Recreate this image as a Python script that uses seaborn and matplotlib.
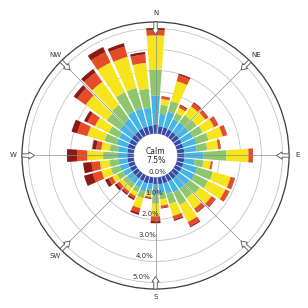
import numpy as np
import matplotlib
matplotlib.use("Agg")
import matplotlib.pyplot as plt
import seaborn as sns
from matplotlib.patches import Polygon

# ---------------- data (percent of time, per direction and speed class) ----------------
directions = list(range(0, 360, 10))
speed_classes = ["0-1 m/s", "1-2 m/s", "2-3 m/s", "3-4 m/s", "4-5 m/s", ">5 m/s"]

spd_1 = [0.43, 0.35, 0.35, 0.33, 0.33, 0.33, 0.33, 0.33, 0.33, 0.33, 0.33, 0.33,
         0.33, 0.33, 0.33, 0.33, 0.33, 0.33, 0.33, 0.30, 0.33, 0.30, 0.30, 0.30,
         0.30, 0.30, 0.30, 0.30, 0.30, 0.33, 0.33, 0.35, 0.35, 0.38, 0.38, 0.38]
spd_2 = [1.37, 0.60, 0.78, 0.55, 0.57, 0.57, 0.60, 0.65, 0.60, 0.90, 0.50, 0.68,
         0.68, 0.62, 0.58, 0.58, 0.52, 0.42, 0.47, 0.30, 0.42, 0.35, 0.32, 0.32,
         0.37, 0.43, 0.43, 0.48, 0.45, 0.55, 0.55, 0.70, 0.75, 0.90, 0.90, 0.85]
spd_3 = [1.25, 0.43, 0.52, 0.32, 0.42, 0.47, 0.52, 0.60, 0.50, 1.10, 0.42, 0.78,
         0.72, 0.60, 0.55, 0.66, 0.50, 0.30, 0.45, 0.20, 0.32, 0.25, 0.25, 0.25,
         0.32, 0.43, 0.43, 0.67, 0.40, 0.60, 0.55, 0.76, 0.82, 1.02, 1.02, 0.92]
spd_4 = [1.62, 0.28, 0.98, 0.28, 0.52, 0.50, 0.60, 0.70, 0.53, 1.05, 0.35, 0.88,
         0.92, 0.70, 0.62, 0.90, 0.60, 0.30, 0.60, 0.13, 0.50, 0.20, 0.20, 0.20,
         0.25, 0.47, 0.46, 0.76, 0.40, 0.85, 0.73, 1.25, 1.36, 1.57, 1.54, 1.24]
spd_5 = [0.25, 0.10, 0.30, 0.12, 0.19, 0.16, 0.20, 0.20, 0.10, 0.20, 0.07, 0.20,
         0.20, 0.20, 0.20, 0.22, 0.18, 0.10, 0.23, 0.06, 0.22, 0.12, 0.12, 0.14,
         0.20, 0.43, 0.40, 0.48, 0.24, 0.50, 0.40, 0.50, 0.55, 0.55, 0.50, 0.40]
spd_6 = [0.10, 0.03, 0.07, 0.05, 0.05, 0.03, 0.03, 0.02, 0.02, 0.02, 0.02, 0.02,
         0.02, 0.04, 0.04, 0.06, 0.06, 0.04, 0.10, 0.04, 0.10, 0.09, 0.08, 0.13,
         0.18, 0.43, 0.40, 0.48, 0.19, 0.28, 0.17, 0.20, 0.20, 0.27, 0.17, 0.12]

calm_pct = 7.5
ring_labels = ["0.0%", "1.0%", "2.0%", "3.0%", "4.0%", "5.0%"]
compass_names = ["N", "NE", "E", "S", "SW", "W", "NW"]
compass_angles = [0, 45, 90, 180, 225, 270, 315]
arrow_angles = [0, 45, 90, 135, 180, 225, 270, 315]

colors = ["#3549a6", "#45b4e6", "#8dc66d", "#f6e51c", "#e64a27", "#8c1a12"]

# ---------------- style ----------------
sns.set_theme(style="white")
plt.rcParams["font.family"] = ["DejaVu Sans"]

PX = 21.0                 # pixels per 1 % of frequency
C = 22.0 / PX             # calm-circle radius (data units)
RMAX = 133.5 / PX         # outer black circle
AX_PX = 267.0             # axes diameter in px

fig = plt.figure(figsize=(3.08, 3.08), dpi=100)
fig.patch.set_facecolor("white")
ax = fig.add_axes([0.0715, 0.0617, 0.8669, 0.8669], projection="polar")
ax.set_theta_zero_location("N")
ax.set_theta_direction(-1)
ax.set_ylim(0, RMAX)
ax.set_facecolor("white")

theta = np.deg2rad(directions)
width = np.deg2rad(8.4)
bottom = np.full(len(directions), C)
for vals, col, lab in zip([spd_1, spd_2, spd_3, spd_4, spd_5, spd_6], colors, speed_classes):
    vals = np.asarray(vals)
    ax.bar(theta, vals, width=width, bottom=bottom, color=col,
           edgecolor="none", linewidth=0, zorder=3, label=lab)
    bottom = bottom + vals

# grid rings
ax.set_xticks([])
ax.set_yticks(C + np.arange(len(ring_labels)))
ax.set_yticklabels([])
ax.yaxis.grid(True, color="#c4c4c4", linewidth=0.6)
ax.set_axisbelow(True)
ax.spines["polar"].set_color("#3a3a3a")
ax.spines["polar"].set_linewidth(0.9)

# direction lines to the arrows
for a in arrow_angles:
    ax.plot([np.deg2rad(a)] * 2, [C, 121 / PX], color="#8a8a8a", lw=0.5, zorder=4)

# arrows (hollow, pointing to the centre)
def to_axes(s, w, phi):
    e = np.array([np.sin(phi), np.cos(phi)])
    n = np.array([np.cos(phi), -np.sin(phi)])
    p = s * e + w * n
    return 0.5 + p / AX_PX

for a in arrow_angles:
    phi = np.deg2rad(a)
    shape = [(121, 0), (126.5, 3.6), (126.5, 1.7), (133.5, 1.7),
             (133.5, -1.7), (126.5, -1.7), (126.5, -3.6)]
    pts = [to_axes(s, w, phi) for s, w in shape]
    ax.add_patch(Polygon(pts, closed=True, facecolor="white", edgecolor="#505050",
                         lw=0.6, transform=ax.transAxes, clip_on=False, zorder=6))

# compass labels
for name, a in zip(compass_names, compass_angles):
    x, y = to_axes(142, 0, np.deg2rad(a))
    ax.text(x, y, name, transform=ax.transAxes, ha="center", va="center",
            fontsize=5, color="#333333", clip_on=False, zorder=7)

# ring labels
for k, lab in enumerate(ring_labels):
    r_px = 22 + 21 * k - 5
    dx = 4 - 0.15 * r_px
    x = 0.5 + dx / AX_PX
    y = 0.5 - r_px / AX_PX
    ax.text(x, y, lab, transform=ax.transAxes, ha="center", va="center",
            fontsize=5, color="#333333", zorder=7)

# calm
ax.text(0.5, 0.5 + 4 / AX_PX, "Calm", transform=ax.transAxes, ha="center",
        va="center", fontsize=5.5, color="#222222", zorder=7)
ax.text(0.5, 0.5 - 5 / AX_PX, f"{calm_pct}%", transform=ax.transAxes, ha="center",
        va="center", fontsize=5.5, color="#222222", zorder=7)

fig.savefig("out.png", dpi=100, facecolor="white")
